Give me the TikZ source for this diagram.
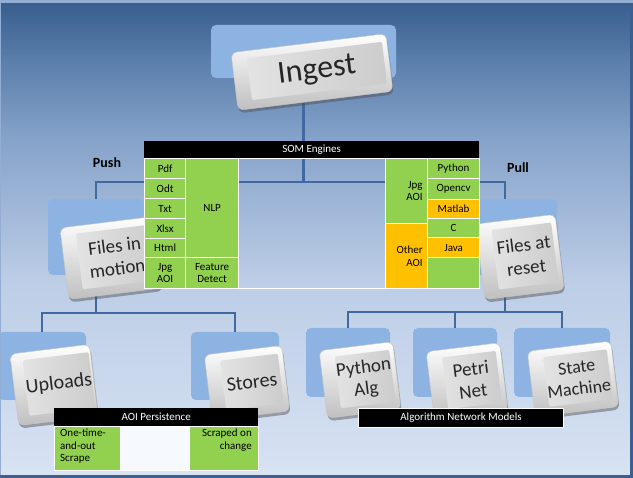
\documentclass[tikz,border=0pt]{standalone}
\usepackage{fontspec}
\setmainfont{Carlito}
\usetikzlibrary{calc}
\definecolor{bgA}{HTML}{365D8D}
\definecolor{bgB}{HTML}{5B7EAB}
\definecolor{bgC}{HTML}{86A3CA}
\definecolor{bgD}{HTML}{BCCDE6}
\definecolor{bgE}{HTML}{D8E3F3}
\definecolor{connc}{HTML}{41689F}
\definecolor{boxblue}{HTML}{8DB3E2}
\definecolor{cgreen}{HTML}{92D050}
\definecolor{corange}{HTML}{FFC000}
\definecolor{framedark}{HTML}{3C5F90}
\definecolor{framelight}{HTML}{93ADD3}
\newcommand{\tabfnt}{\fontsize{11}{12.5}\selectfont}
\newcommand{\keybox}[8]{%
  \node[keyshadow, minimum width=#4pt, minimum height=#5pt] at (#2+1,#3+3) {};
  \node[keyouter, minimum width=#4pt, minimum height=#5pt] (#1) at (#2,#3) {};
  \node[keyface, minimum width=#4pt-20pt, minimum height=#5pt-16pt, font=\fontsize{#6}{#7}\selectfont] (#1-txt) at ($(#1.center)+(5,-1)$) {#8};
}
\newcommand{\cellnode}[8]{%
  \node[cell, fill=#6, minimum width=#4pt-#2pt, minimum height=#5pt-#3pt, #7] (#1) at (#2,#3) {#8};
}
\begin{document}
\begin{tikzpicture}[x=1pt,y=-1pt,
  conn/.style={draw=connc, line width=2.2pt},
  bluebox/.style={fill=boxblue, rounded corners=5pt, inner sep=0pt},
  keyshadow/.style={fill=gray!60!black, opacity=0.45, rounded corners=6pt, rotate=7, inner sep=0pt},
  keyouter/.style={top color=white, bottom color=gray!50, draw=gray!45, line width=0.4pt, rounded corners=6pt, rotate=7, inner sep=0pt},
  keyface/.style={left color=gray!22, right color=gray!40, rounded corners=2pt, rotate=7, inner sep=0pt, align=center, text=black!85},
  cell/.style={draw=white, line width=1.2pt, inner sep=1pt, anchor=north west, align=center, font=\tabfnt},
  hdr/.style={fill=black, text=white, anchor=north west, inner sep=0pt, font=\fontsize{11}{13}\selectfont},
  lbl/.style={font=\bfseries\fontsize{14}{16}\selectfont, inner sep=0pt}
]
\useasboundingbox (0,0) rectangle (633,478);
% background
\fill[top color=bgA,bottom color=bgB] (0,0) rectangle (633,60.5);
\fill[top color=bgB,bottom color=bgC] (0,60) rectangle (633,140.5);
\fill[top color=bgC,bottom color=bgD] (0,140) rectangle (633,280.5);
\fill[top color=bgD,bottom color=bgE] (0,280) rectangle (633,478);
% blue backing boxes
\node[bluebox, minimum width=185pt, minimum height=53pt] (ingestbg) at (303.5,51.5) {};
\node[bluebox, minimum width=96pt, minimum height=76pt] (fimbg) at (96,237) {};
\node[bluebox, minimum width=104pt, minimum height=76pt] (farbg) at (505,237) {};
\node[bluebox, minimum width=88pt, minimum height=68pt] (upbg) at (42,366) {};
\node[bluebox, minimum width=88pt, minimum height=68pt] (stbg) at (235,366) {};
\node[bluebox, minimum width=84pt, minimum height=69pt] (pybg) at (348,362.5) {};
\node[bluebox, minimum width=84pt, minimum height=69pt] (pnbg) at (455,362.5) {};
\node[bluebox, minimum width=96pt, minimum height=69pt] (smbg) at (562,362.5) {};
% connectors
\coordinate (busA) at (304,182);
\coordinate (busB) at (96,313);
\coordinate (busC) at (505,312);
\draw[conn] (ingestbg.south) -- (ingestbg.south |- busA);
\draw[conn] (fimbg.north) -- (fimbg.north |- busA) -- (farbg.north |- busA) -- (farbg.north);
\draw[conn] (fimbg.south) -- (fimbg.south |- busB);
\draw[conn] (upbg.north) -- (upbg.north |- busB) -- (stbg.north |- busB) -- (stbg.north);
\draw[conn] (farbg.south) -- (farbg.south |- busC);
\draw[conn] (pybg.north) -- (pybg.north |- busC) -- (smbg.north |- busC) -- (smbg.north);
\draw[conn] (pnbg.north) -- (pnbg.north |- busC);
% keys
\keybox{ingest}{312}{72}{156}{58}{32}{36}{Ingest}
\keybox{fim}{111}{258}{94}{72}{19}{23}{Files in\\motion}
\keybox{far}{520}{257}{80}{76}{19}{23}{Files at\\reset}
\keybox{uploads}{54}{385}{80}{72}{20}{24}{Uploads}
\keybox{stores}{247}{383}{78}{66}{20}{24}{Stores}
\keybox{pyalg}{360}{380}{74}{68}{19}{22}{Python\\Alg}
\keybox{petri}{467}{381}{74}{68}{19}{22}{Petri\\Net}
\keybox{state}{573}{379}{84}{66}{18}{22}{State\\Machine}
% SOM engines table
\node[hdr, minimum width=335pt, minimum height=17pt] (somhdr) at (144,141) {SOM Engines};
\cellnode{pdf}{144}{158}{185}{178}{cgreen}{}{Pdf}
\cellnode{odt}{144}{178}{185}{198}{cgreen}{}{Odt}
\cellnode{txt}{144}{198}{185}{218}{cgreen}{}{Txt}
\cellnode{xlsx}{144}{218}{185}{238}{cgreen}{}{Xlsx}
\cellnode{html}{144}{238}{185}{257}{cgreen}{}{Html}
\cellnode{jpgl}{144}{257}{185}{288}{cgreen}{}{Jpg\\AOI}
\cellnode{nlp}{185}{158}{238}{257}{cgreen}{}{NLP}
\cellnode{feat}{185}{257}{238}{288}{cgreen}{}{Feature\\Detect}
\cellnode{midcell}{238}{158}{385}{288}{none}{}{}
\cellnode{jpgr}{385}{158}{427}{223}{cgreen}{align=right, text width=32pt}{Jpg\\AOI}
\cellnode{other}{385}{223}{427}{288}{corange}{align=right, text width=32pt}{Other\\AOI}
\cellnode{python}{427}{158}{479}{178}{cgreen}{}{Python}
\cellnode{opencv}{427}{178}{479}{199}{cgreen}{}{Opencv}
\cellnode{matlab}{427}{199}{479}{218}{corange}{}{Matlab}
\cellnode{ccell}{427}{218}{479}{237}{cgreen}{}{C}
\cellnode{java}{427}{237}{479}{257}{corange}{}{Java}
\cellnode{blank}{427}{257}{479}{288}{cgreen}{}{}
% AOI persistence table
\node[hdr, minimum width=204pt, minimum height=18pt] (aoihdr) at (54,408) {AOI Persistence};
\cellnode{once}{54}{426}{120}{470}{cgreen}{}{}
\cellnode{aoimid}{120}{426}{189}{470}{white!92!boxblue}{}{}
\cellnode{scraped}{189}{426}{258}{470}{cgreen}{}{}
\node[anchor=north west, inner sep=0pt, align=left, font=\tabfnt] (oncet) at (60,429) {One-time-\\and-out\\Scrape};
\node[anchor=north east, inner sep=0pt, align=right, font=\tabfnt] (scrapedt) at (252,429) {Scraped on\\change};
% Algorithm network models header
\node[hdr, minimum width=205pt, minimum height=19pt, draw=white, line width=1pt] (alghdr) at (358,408) {Algorithm Network Models};
% labels
\node[lbl] (push) at (107,163) {Push};
\node[lbl] (pull) at (518,168) {Pull};
% frame
\fill[framelight] (0,0) rectangle (633,3);
\fill[framelight] (0,0) rectangle (1.2,478);
\fill[framedark] (630,3) rectangle (633,478);
\fill[framedark] (0,475.5) rectangle (633,478);
\end{tikzpicture}
\end{document}
